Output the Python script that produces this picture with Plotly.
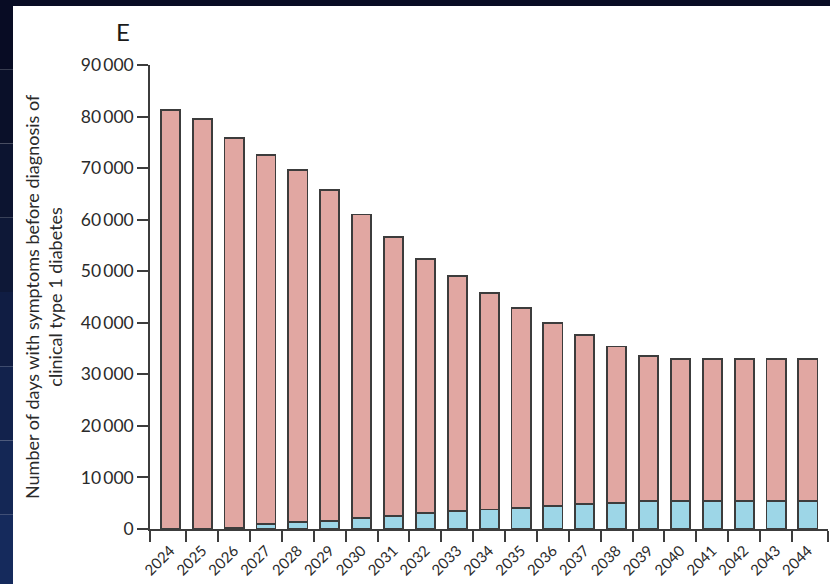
import plotly.graph_objects as go

years = [str(y) for y in range(2024, 2045)]
total_days = [81300, 79600, 75800, 72600, 69600, 65800, 61000, 56600, 52400, 49000,
              45700, 42800, 40000, 37700, 35400, 33500, 32900, 32900, 32900, 32900, 32900]
blue_days = [0, 0, 300, 900, 1300, 1550, 2200, 2500, 3150, 3500,
             3800, 4050, 4400, 4780, 5100, 5400, 5400, 5400, 5400, 5400, 5400]
pink_days = [t - b for t, b in zip(total_days, blue_days)]
y_ticks = [0, 10000, 20000, 30000, 40000, 50000, 60000, 70000, 80000, 90000]
y_ticktext = ["0"] + [f"{v // 1000}\u2009000" for v in y_ticks[1:]]

W, H = 830, 584
L, R, T, B = 150, 2, 65, 55
pw, ph = W - L - R, H - T - B

xpos = list(range(len(years)))
x0, x1 = -0.64, 20.63
FONT = "Lato"
TXT = "#2a2a2a"
LINE = "#3c3c3c"

fig = go.Figure()
fig.add_bar(x=xpos, y=blue_days, width=0.6, marker=dict(color="#9dd6e7", line=dict(color=LINE, width=1.8)),
            name="blue")
fig.add_bar(x=xpos, y=pink_days, width=0.6, marker=dict(color="#e1a7a2", line=dict(color=LINE, width=1.8)),
            name="pink")
# invisible trace to activate label axis
fig.add_scatter(x=xpos, y=[0] * len(xpos), xaxis="x2", mode="markers",
                marker=dict(opacity=0), hoverinfo="skip", showlegend=False)

boundaries = [x0] + [i + 0.5 for i in range(len(years) - 1)] + [x1]

fig.update_layout(
    width=W, height=H,
    margin=dict(l=L, r=R, t=T, b=B, autoexpand=False),
    barmode="stack",
    showlegend=False,
    paper_bgcolor="white",
    plot_bgcolor="white",
    font=dict(family=FONT, color=TXT),
    xaxis=dict(range=[x0, x1], tickvals=boundaries, showticklabels=False, automargin=False,
               ticks="outside", ticklen=11, tickwidth=1.5, tickcolor=LINE,
               showline=True, linecolor=LINE, linewidth=1.5, showgrid=False, zeroline=False),
    xaxis2=dict(range=[x0, x1], overlaying="x", anchor="y", side="bottom", automargin=False,
                tickvals=xpos, ticktext=years, tickangle=-45,
                ticks="outside", ticklen=6, tickcolor="rgba(0,0,0,0)",
                tickfont=dict(size=15, color=TXT, family=FONT),
                showline=False, showgrid=False, zeroline=False),
    yaxis=dict(range=[0, 90000], tickvals=y_ticks, ticktext=y_ticktext, automargin=False,
               ticks="outside", ticklen=11, tickwidth=1.5, tickcolor=LINE,
               tickfont=dict(size=17.5, color=TXT, family=FONT),
               showline=True, linecolor=LINE, linewidth=1.5, showgrid=False, zeroline=False),
)

# y-axis title
fig.add_annotation(xref="paper", yref="paper", x=(43 - L) / pw, y=0.5,
                   text="Number of days with symptoms before diagnosis of<br>clinical type 1 diabetes",
                   textangle=-90, showarrow=False, xanchor="center", yanchor="middle",
                   font=dict(size=18, color=TXT, family=FONT))
# panel letter
fig.add_annotation(xref="paper", yref="paper", x=(123 - L) / pw, y=1 + (T - 31) / ph,
                   text="E", showarrow=False, xanchor="center", yanchor="middle",
                   font=dict(size=24, color="#1a1a1a", family=FONT))

# dark slide surroundings
def px_x(p):
    return (p - L) / pw

def px_y(p):
    return 1 - (p - T) / ph

fig.add_shape(type="rect", xref="paper", yref="paper", x0=px_x(-5), x1=px_x(W + 5),
              y0=px_y(6), y1=px_y(-5), fillcolor="#080c24", line_width=0, layer="above")
cols = ["#080c24", "#0a1029", "#0c1430", "#0e1837", "#101d43", "#12224c", "#142755", "#152a5c"]
n = len(cols)
for i, c in enumerate(cols):
    ya = -5 + i * (H + 10) / n
    yb = -5 + (i + 1) * (H + 10) / n
    fig.add_shape(type="rect", xref="paper", yref="paper", x0=px_x(-5), x1=px_x(13),
                  y0=px_y(yb), y1=px_y(ya), fillcolor=c, line_width=0, layer="above")

fig.write_html("out.html")
